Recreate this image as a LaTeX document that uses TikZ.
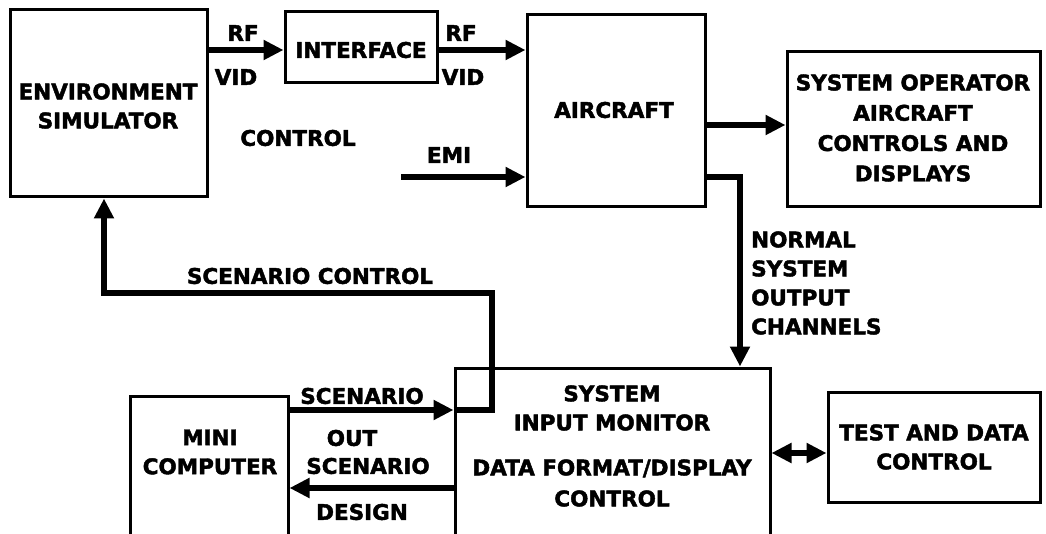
\documentclass[tikz,border=0pt]{standalone}
\usepackage{fontspec}
\setmainfont{DejaVu Sans}[BoldFont={DejaVu Sans Bold},BoldFeatures={FakeBold=2}]
\usetikzlibrary{arrows.meta,calc}
\begin{document}
\begin{tikzpicture}[x=1pt,y=-1pt,
  box/.style={draw,line width=3pt,rectangle,inner sep=0pt},
  txt/.style={font=\fontsize{21.5}{29}\selectfont\bfseries,inner sep=0pt,align=center},
  ltxt/.style={font=\fontsize{21.5}{29}\selectfont\bfseries,inner sep=0pt,align=left},
  arr/.style={line width=6.5pt,-{Triangle[length=20pt,width=19pt]}},
  dbl/.style={line width=6.5pt,{Triangle[length=20pt,width=19pt]}-{Triangle[length=20pt,width=19pt]}}]
\clip (0,0) rectangle (1046,534);
\fill[white] (0,0) rectangle (1046,534);
% boxes
\node[box,minimum width=197pt,minimum height=187pt] (env) at (108.5,103.5) {};
\node[box,minimum width=152pt,minimum height=71pt] (iface) at (361,47.5) {};
\node[box,minimum width=178pt,minimum height=192pt] (air) at (616,111) {};
\node[box,minimum width=253pt,minimum height=155pt] (sysop) at (913.5,129.5) {};
\node[box,minimum width=158pt,minimum height=150pt] (mini) at (209,471) {};
\node[box,minimum width=315pt,minimum height=180pt] (sim) at (612.5,458) {};
\node[box,minimum width=212pt,minimum height=110pt] (test) at (934,447) {};
% box texts
\node[txt] (envt) at (108,106) {ENVIRONMENT\\SIMULATOR};
\node[txt] (ifacet) at (361,50) {INTERFACE};
\node[txt] (airt) at (614,110) {AIRCRAFT};
\node[txt,font=\fontsize{21.5}{30.3}\selectfont\bfseries] (sysopt) at (913,128) {SYSTEM OPERATOR\\AIRCRAFT\\CONTROLS AND\\DISPLAYS};
\node[txt] (minit) at (210,452) {MINI\\COMPUTER};
\node[txt] (simt1) at (612,408) {SYSTEM\\INPUT MONITOR};
\node[txt,font=\fontsize{21.5}{31}\selectfont\bfseries] (simt2) at (612,483) {DATA FORMAT/DISPLAY\\CONTROL};
\node[txt] (testt) at (934,447) {TEST AND DATA\\CONTROL};
% labels
\node[txt] (rf1) at (243,33) {RF};
\node[txt] (vid1) at (236,77) {VID};
\node[txt] (rf2) at (461,33) {RF};
\node[txt] (vid2) at (463,77) {VID};
\node[txt] (ctl) at (298,138) {CONTROL};
\node[txt] (emi) at (449,155) {EMI};
\node[ltxt,anchor=west] (nrm) at (751,283) {NORMAL\\SYSTEM\\OUTPUT\\CHANNELS};
\node[txt] (scc) at (310,276) {SCENARIO CONTROL};
\node[txt] (sc1) at (362,396) {SCENARIO};
\node[txt] (out) at (352,438) {OUT};
\node[txt] (sc2) at (368,466) {SCENARIO};
\node[txt] (des) at (362,512) {DESIGN};
% coordinates
\coordinate (emis) at (401,177);
\coordinate (nx) at (740,177);
\coordinate (ys) at (0,410);
\coordinate (yd) at (0,488);
\coordinate (scc1) at (492,293);
\coordinate (scx) at (104,0);
% connectors
\draw[arr] (env.east |- 0,50) -- (iface.west |- 0,50);
\draw[arr] (iface.east |- 0,50) -- (air.west |- 0,50);
\draw[arr] (emis) -- (emis -| air.west);
\draw[arr] (air.east |- 0,125) -- (sysop.west |- 0,125);
\draw[arr] (nx -| air.east) -| (nx |- sim.north);
\draw[arr] (mini.east |- ys) -- (sim.west |- ys);
\draw[arr] (sim.west |- ys) -| (scc1) -| (scx |- env.south);
\draw[arr] (sim.west |- yd) -- (mini.east |- yd);
\draw[dbl] (sim.east |- 0,453) -- (test.west |- 0,453);
\end{tikzpicture}
\end{document}
